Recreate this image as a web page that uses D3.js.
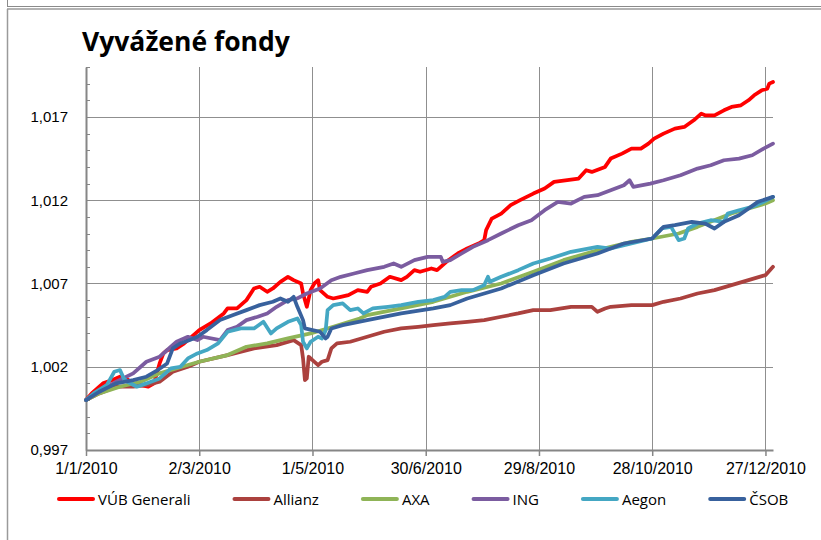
<!DOCTYPE html>
<html>
<head>
<meta charset="utf-8">
<script src="https://cdn.jsdelivr.net/npm/d3@7"></script>
<style>
  body { margin: 0; background: #fff; }
  svg { display: block; font-family: 'Open Sans', sans-serif; }
  .grid line { stroke: #8f8f8f; stroke-width: 1; }
  .axis path, .axis line { stroke: #868686; }
  .axis text { fill: #000; }
  .series { fill: none; stroke-width: 3.75; stroke-linejoin: round; stroke-linecap: round; }
</style>
</head>
<body>
<div class="chart"></div>
<script>
// each point: [day of year 2010, fund value]
var vubGenerali = [[0,1.0000],[3,1.0004],[6,1.0007],[9,1.0010],[14,1.0012],[18,1.0014],[21,1.0013],
  [25,1.0010],[29,1.0009],[33,1.0008],[36,1.0010],[39,1.0022],[41,1.0028],[43,1.0030],[48,1.0031],
  [52,1.0034],[55,1.0037],[60,1.0042],[66,1.0046],[73,1.0052],[75,1.0055],[80,1.0055],[85,1.0060],
  [89,1.0067],[92,1.0068],[96,1.0065],[99,1.0067],[103,1.0071],[107,1.0074],[110,1.0072],[114,1.0070],
  [115,1.0064],[117,1.0056],[119,1.0066],[121,1.0070],[123,1.0072],[124,1.0066],[128,1.0062],
  [131,1.0061],[135,1.0062],[139,1.0063],[144,1.0066],[149,1.0065],[151,1.0068],[156,1.0070],
  [161,1.0074],[167,1.0072],[170,1.0074],[174,1.0078],[177,1.0077],[183,1.0079],[186,1.0078],
  [192,1.0084],[197,1.0088],[202,1.0091],[208,1.0094],[211,1.0096],[212,1.0102],[215,1.0109],
  [220,1.0112],[225,1.0117],[230,1.0120],[237,1.0124],[243,1.0127],[248,1.0131],[255,1.0132],
  [261,1.0133],[265,1.0138],[268,1.0137],[275,1.0140],[278,1.0145],[284,1.0148],[289,1.0151],
  [294,1.0151],[298,1.0154],[301,1.0157],[306,1.0160],[312,1.0163],[317,1.0164],[322,1.0168],
  [326,1.0172],[328,1.0171],[333,1.0171],[338,1.0174],[342,1.0176],[347,1.0177],[351,1.0180],
  [354,1.0183],[358,1.0186],[361,1.0187],[362,1.0190],[364,1.0191]];

var allianz = [[0,1.0000],[7,1.0004],[16,1.0008],[25,1.0008],[32,1.0009],[39,1.0011],[46,1.0017],
  [54,1.0020],[60,1.0023],[75,1.0027],[89,1.0031],[101,1.0033],[110,1.0036],[114,1.0033],
  [115,1.0025],[116,1.0012],[117,1.0013],[118,1.0026],[120,1.0024],[123,1.0021],[125,1.0023],
  [128,1.0024],[130,1.0031],[133,1.0034],[140,1.0035],[149,1.0038],[158,1.0041],[167,1.0043],
  [176,1.0044],[184,1.0045],[193,1.0046],[202,1.0047],[211,1.0048],[220,1.0050],[229,1.0052],
  [237,1.0054],[246,1.0054],[257,1.0056],[268,1.0056],[271,1.0053],[275,1.0055],[278,1.0056],
  [289,1.0057],[300,1.0057],[306,1.0059],[315,1.0061],[324,1.0064],[333,1.0066],[342,1.0069],
  [351,1.0072],[360,1.0075],[364,1.0080]];

var axa = [[0,1.0000],[7,1.0004],[18,1.0008],[29,1.0011],[39,1.0016],[54,1.0021],[60,1.0023],
  [75,1.0027],[85,1.0032],[96,1.0034],[107,1.0037],[119,1.0040],[131,1.0044],[145,1.0049],
  [149,1.0051],[167,1.0055],[184,1.0059],[202,1.0065],[220,1.0070],[237,1.0077],[253,1.0084],
  [271,1.0090],[289,1.0095],[300,1.0097],[314,1.0100],[324,1.0104],[342,1.0112],[360,1.0118],
  [364,1.0120]];

var ing = [[0,1.0000],[4,1.0003],[16,1.0011],[25,1.0016],[32,1.0023],[39,1.0026],[48,1.0035],
  [54,1.0038],[59,1.0036],[62,1.0038],[71,1.0036],[75,1.0042],[80,1.0044],[85,1.0048],[91,1.0050],
  [96,1.0052],[101,1.0056],[107,1.0060],[112,1.0061],[117,1.0064],[124,1.0067],[130,1.0072],
  [135,1.0074],[142,1.0076],[149,1.0078],[158,1.0080],[163,1.0082],[167,1.0080],[174,1.0084],
  [181,1.0086],[188,1.0086],[189,1.0083],[193,1.0084],[199,1.0088],[205,1.0092],[213,1.0096],
  [220,1.0100],[229,1.0105],[236,1.0108],[243,1.0114],[250,1.0119],[257,1.0118],[264,1.0122],
  [271,1.0123],[278,1.0126],[285,1.0129],[288,1.0132],[290,1.0128],[299,1.0130],[306,1.0132],
  [315,1.0135],[324,1.0139],[331,1.0141],[338,1.0144],[346,1.0145],[353,1.0147],[359,1.0151],
  [364,1.0154]];

var aegon = [[0,1.0000],[4,1.0004],[11,1.0009],[15,1.0017],[18,1.0018],[20,1.0013],[22,1.0011],
  [27,1.0008],[32,1.0010],[39,1.0013],[45,1.0019],[50,1.0020],[54,1.0025],[59,1.0028],[64,1.0030],
  [70,1.0034],[75,1.0041],[82,1.0043],[89,1.0043],[94,1.0047],[98,1.0040],[101,1.0043],[107,1.0047],
  [112,1.0049],[114,1.0045],[115,1.0035],[117,1.0031],[119,1.0035],[123,1.0038],[125,1.0037],
  [127,1.0042],[128,1.0054],[131,1.0057],[136,1.0058],[140,1.0054],[144,1.0055],[147,1.0052],
  [152,1.0055],[160,1.0056],[167,1.0057],[176,1.0059],[184,1.0060],[190,1.0062],[193,1.0065],
  [199,1.0066],[205,1.0066],[211,1.0069],[213,1.0074],[214,1.0071],[220,1.0074],[229,1.0078],
  [237,1.0082],[246,1.0085],[257,1.0089],[271,1.0092],[278,1.0091],[289,1.0094],[300,1.0097],
  [305,1.0103],[310,1.0104],[314,1.0096],[317,1.0097],[319,1.0103],[324,1.0106],[331,1.0108],
  [338,1.0107],[340,1.0112],[346,1.0114],[353,1.0116],[359,1.0119],[364,1.0122]];

var csob = [[0,1.0000],[7,1.0005],[16,1.0010],[25,1.0012],[32,1.0014],[38,1.0018],[43,1.0022],
  [46,1.0031],[50,1.0034],[55,1.0036],[59,1.0038],[64,1.0042],[71,1.0048],[78,1.0051],[85,1.0054],
  [92,1.0057],[99,1.0059],[103,1.0061],[107,1.0059],[110,1.0062],[112,1.0056],[115,1.0048],
  [116,1.0043],[120,1.0042],[124,1.0041],[127,1.0037],[128,1.0038],[130,1.0043],[136,1.0045],
  [149,1.0048],[167,1.0052],[184,1.0055],[193,1.0057],[202,1.0061],[220,1.0067],[237,1.0075],
  [253,1.0082],[271,1.0088],[285,1.0094],[300,1.0097],[306,1.0104],[312,1.0105],[321,1.0107],
  [328,1.0106],[333,1.0103],[338,1.0107],[346,1.0111],[356,1.0119],[364,1.0122]];

var seriesNames = ['VÚB Generali', 'Allianz', 'AXA', 'ING', 'Aegon', 'ČSOB'];
var seriesValues = [vubGenerali, allianz, axa, ing, aegon, csob];
var seriesColors = ['#ff0000', '#ab413e', '#8fb457', '#7b5ca0', '#44a7c3', '#38619d'];

var xTickDates = ['2010-01-01', '2010-03-02', '2010-05-01', '2010-06-30',
                  '2010-08-29', '2010-10-28', '2010-12-27'];
var yTicks = [0.997, 1.002, 1.007, 1.012, 1.017];
var yDomain = [0.997, 1.020];
var dateDomain = ['2010-01-01', '2010-12-31'];

function init() {
  var width = 821,
      height = 540,
      left = 86,
      right = 773,
      top = 67,
      bottom = 450;

  var parse = d3.timeParse('%Y-%m-%d');
  var start = parse(dateDomain[0]);
  var locale = d3.formatLocale({decimal: ',', thousands: ' ', grouping: [3], currency: ['', '']});
  var fmtY = locale.format('.3f');

  var svg = d3.select('.chart')
    .append('svg')
      .attr('width', width)
      .attr('height', height);

  // sheet frame
  svg.append('line').attr('x1', 7.5).attr('y1', 0).attr('x2', 7.5).attr('y2', 6)
      .attr('stroke', '#8a8a8a');
  svg.append('line').attr('x1', 7).attr('y1', 6.5).attr('x2', width).attr('y2', 6.5)
      .attr('stroke', '#8a8a8a');
  svg.append('line').attr('x1', 7).attr('y1', 9).attr('x2', width).attr('y2', 9)
      .attr('stroke', '#9a9a9a').attr('stroke-width', 1.5);
  svg.append('line').attr('x1', 7.5).attr('y1', 9).attr('x2', 7.5).attr('y2', height)
      .attr('stroke', '#9a9a9a').attr('stroke-width', 1.5);

  var x = d3.scaleTime()
    .domain(dateDomain.map(parse))
    .range([left, right]);

  var y = d3.scaleLinear()
    .domain(yDomain)
    .range([bottom, top]);

  svg.append('text')
      .attr('x', 82)
      .attr('y', 51)
      .style('font-size', '26.5px')
      .style('font-weight', 'bold')
      .text('Vyvážené fondy');

  // grid
  var grid = svg.append('g').attr('class', 'grid');
  grid.selectAll('line.h')
    .data(yTicks.slice(1))
    .enter().append('line')
      .attr('class', 'h')
      .attr('x1', left).attr('x2', right)
      .attr('y1', function(d) { return Math.round(y(d)) + 0.5; })
      .attr('y2', function(d) { return Math.round(y(d)) + 0.5; });
  grid.selectAll('line.v')
    .data(xTickDates.slice(1).map(parse))
    .enter().append('line')
      .attr('class', 'v')
      .attr('y1', top).attr('y2', bottom)
      .attr('x1', function(d) { return Math.round(x(d)) + 0.5; })
      .attr('x2', function(d) { return Math.round(x(d)) + 0.5; });

  // minor ticks on the value axis
  var minor = d3.range(0, 24).map(function(i) { return 0.997 + i * 0.001; });
  svg.append('g').selectAll('line')
    .data(minor)
    .enter().append('line')
      .attr('x1', left).attr('x2', left + 4)
      .attr('y1', function(d) { return Math.round(y(d)) + 0.5; })
      .attr('y2', function(d) { return Math.round(y(d)) + 0.5; })
      .attr('stroke', '#868686');

  var xAxis = svg.append('g')
      .attr('class', 'axis')
      .attr('transform', 'translate(0,' + bottom + ')')
      .call(d3.axisBottom(x)
        .tickValues(xTickDates.map(parse))
        .tickFormat(d3.timeFormat('%-d/%-m/%Y'))
        .tickSize(6)
        .tickSizeOuter(0)
        .tickPadding(7));
  xAxis.select('.domain').attr('stroke-width', 2);
  xAxis.selectAll('.tick line').attr('stroke-width', 1.5);
  xAxis.selectAll('text').style('font-size', '16px');

  var yAxis = svg.append('g')
      .attr('class', 'axis')
      .attr('transform', 'translate(' + left + ',0)')
      .call(d3.axisLeft(y)
        .tickValues(yTicks)
        .tickFormat(fmtY)
        .tickSize(0)
        .tickSizeOuter(0)
        .tickPadding(18));
  yAxis.select('.domain').attr('stroke-width', 2);
  yAxis.selectAll('text').style('font-size', '15px');

  var line = d3.line()
    .x(function(d) { return x(d3.timeDay.offset(start, d[0])); })
    .y(function(d) { return y(d[1]); });

  svg.append('g').selectAll('path')
    .data(seriesValues)
    .enter().append('path')
      .attr('class', 'series')
      .attr('stroke', function(d, i) { return seriesColors[i]; })
      .attr('d', line);

  // legend
  var legend = svg.append('g').attr('transform', 'translate(59,499)');
  var lx = 0;
  seriesNames.forEach(function(name, i) {
    var g = legend.append('g').attr('transform', 'translate(' + lx + ',0)');
    g.append('line')
        .attr('x1', 0).attr('x2', 34)
        .attr('stroke', seriesColors[i])
        .attr('stroke-width', 4)
        .attr('stroke-linecap', 'round');
    var t = g.append('text')
        .attr('x', 39)
        .attr('y', 6)
        .style('font-size', '15px')
        .text(name);
    lx += 39 + t.node().getComputedTextLength() + 44;
  });
}

d3.select(window).on('load', init);
</script>
</body>
</html>
